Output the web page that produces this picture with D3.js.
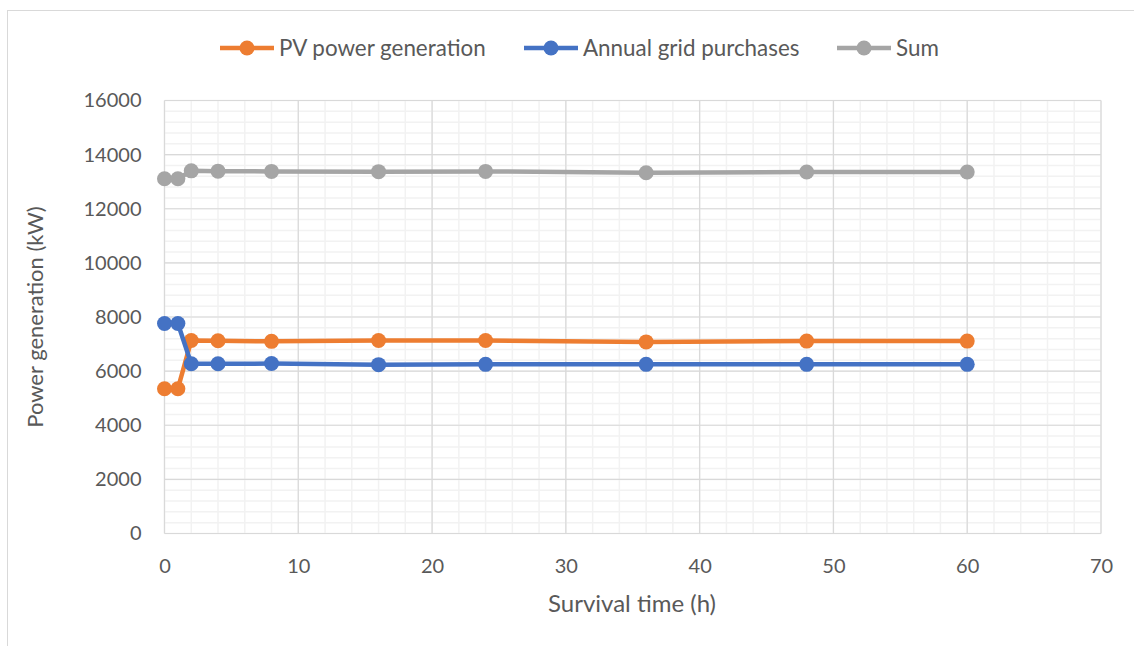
<!DOCTYPE html>
<html>
<head>
<meta charset="utf-8">
<script src="https://cdn.jsdelivr.net/npm/d3@7"></script>
<style>
  html, body { margin: 0; padding: 0; background: #fff; }
  svg { display: block; }
  text { font-family: Lato, "Open Sans", sans-serif; fill: #595959; }
</style>
</head>
<body>
<svg id="chart" width="1134" height="646"></svg>
<script>
// Survival time (h)
const hours = [0, 1, 2, 4, 8, 16, 24, 36, 48, 60];
// Annual energy per scenario (kW)
const pvGeneration   = [5350, 5350, 7130, 7120, 7100, 7130, 7130, 7080, 7110, 7110];
const gridPurchases  = [7760, 7760, 6270, 6270, 6280, 6240, 6250, 6250, 6250, 6250];
const totalSum       = [13110, 13110, 13400, 13390, 13380, 13370, 13380, 13330, 13360, 13360];

const seriesNames  = ["PV power generation", "Annual grid purchases", "Sum"];
const seriesColors = ["#ED7D31", "#4472C4", "#A5A5A5"];
const seriesValues = [pvGeneration, gridPurchases, totalSum];

const xTicks = [0, 10, 20, 30, 40, 50, 60, 70];
const yTicks = [0, 2000, 4000, 6000, 8000, 10000, 12000, 14000, 16000];

const svg = d3.select("#chart");
const plot = { left: 164.5, right: 1101, top: 100.5, bottom: 533.5 };

// Outer chart frame
svg.append("rect")
  .attr("x", 7.5).attr("y", 10.5)
  .attr("width", 1140).attr("height", 660)
  .attr("fill", "#fff").attr("stroke", "#D9D9D9").attr("stroke-width", 1);

const x = d3.scaleLinear().domain([0, 70]).range([plot.left, plot.right]);
const y = d3.scaleLinear().domain([0, 16000]).range([plot.bottom, plot.top]);

const grid = svg.append("g");
// Minor gridlines
grid.selectAll("line.vminor")
  .data(d3.range(0, 71, 2))
  .join("line")
  .attr("x1", d => x(d)).attr("x2", d => x(d))
  .attr("y1", plot.top).attr("y2", plot.bottom)
  .attr("stroke", "#F2F2F2").attr("stroke-width", 1.5);
grid.selectAll("line.hminor")
  .data(d3.range(0, 16001, 400))
  .join("line")
  .attr("x1", plot.left).attr("x2", plot.right)
  .attr("y1", d => y(d)).attr("y2", d => y(d))
  .attr("stroke", "#F2F2F2").attr("stroke-width", 1.5);
// Major gridlines
grid.selectAll("line.vmajor")
  .data(xTicks)
  .join("line")
  .attr("x1", d => x(d)).attr("x2", d => x(d))
  .attr("y1", plot.top).attr("y2", plot.bottom)
  .attr("stroke", "#D9D9D9").attr("stroke-width", 1.2);
grid.selectAll("line.hmajor")
  .data(yTicks)
  .join("line")
  .attr("x1", plot.left).attr("x2", plot.right)
  .attr("y1", d => y(d)).attr("y2", d => y(d))
  .attr("stroke", "#D9D9D9").attr("stroke-width", 1.2);

// Axes (labels only; gridlines drawn above)
const xAxis = svg.append("g")
  .attr("transform", `translate(0,${plot.bottom})`)
  .call(d3.axisBottom(x).tickValues(xTicks).tickSize(0).tickPadding(25));
const yAxis = svg.append("g")
  .attr("transform", `translate(${plot.left},0)`)
  .call(d3.axisLeft(y).tickValues(yTicks).tickSize(0).tickPadding(23).tickFormat(d3.format("d")));
[xAxis, yAxis].forEach(a => {
  a.select(".domain").remove();
  a.selectAll("text")
    .style("font-family", "Lato, 'Open Sans', sans-serif")
    .style("font-size", "20px")
    .attr("fill", "#595959");
});
xAxis.selectAll("text").attr("dy", "0.71em");

// Axis titles
svg.append("text")
  .attr("x", 632).attr("y", 612)
  .attr("text-anchor", "middle")
  .style("font-size", "24px")
  .text("Survival time (h)");
svg.append("text")
  .attr("transform", `translate(43,${(plot.top + plot.bottom) / 2}) rotate(-90)`)
  .attr("text-anchor", "middle")
  .style("font-size", "22px")
  .text("Power generation (kW)");

// Series lines and markers
const line = d3.line().x((d, i) => x(hours[i])).y(d => y(d));
seriesValues.forEach((vals, si) => {
  const g = svg.append("g");
  g.append("path")
    .datum(vals)
    .attr("d", line)
    .attr("fill", "none")
    .attr("stroke", seriesColors[si])
    .attr("stroke-width", 4.5)
    .attr("stroke-linejoin", "round");
  g.selectAll("circle")
    .data(vals)
    .join("circle")
    .attr("cx", (d, i) => x(hours[i]))
    .attr("cy", d => y(d))
    .attr("r", 7.5)
    .attr("fill", seriesColors[si]);
});

// Legend
const legendX = [220, 524, 837];
const legend = svg.append("g");
seriesNames.forEach((name, si) => {
  const lg = legend.append("g").attr("transform", `translate(${legendX[si]},48)`);
  lg.append("line").attr("x1", 0).attr("x2", 54).attr("y1", 0).attr("y2", 0)
    .attr("stroke", seriesColors[si]).attr("stroke-width", 4.5);
  lg.append("circle").attr("cx", 27).attr("cy", 0).attr("r", 7.5).attr("fill", seriesColors[si]);
  lg.append("text").attr("x", 59).attr("y", 0).attr("dy", "0.35em")
    .style("font-size", "22.4px").text(name);
});
</script>
</body>
</html>
